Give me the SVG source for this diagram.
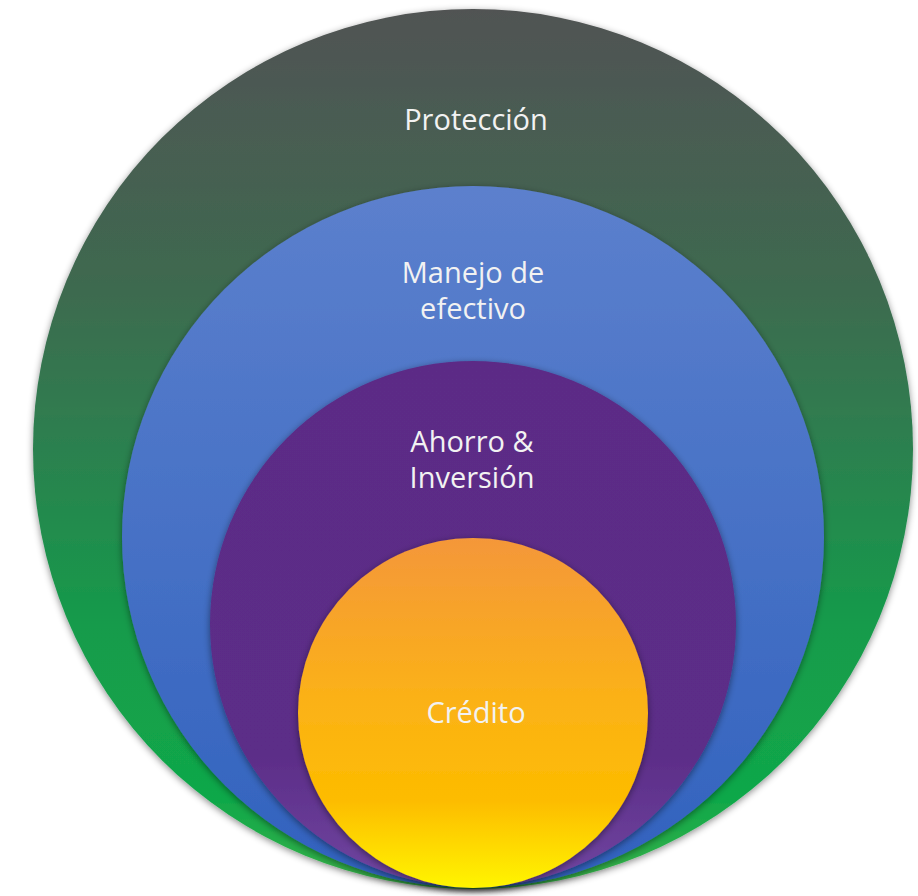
<svg xmlns="http://www.w3.org/2000/svg" width="918" height="896" viewBox="0 0 918 896">
<style>
  .lbl { font-family: "Open Sans", "Noto Sans", "Liberation Sans", sans-serif; font-size: 29px; fill: #f2f2f2; text-anchor: middle; }
  .ring { filter: url(#shadow); }
</style>
<defs>
  <filter id="shadow" x="-10%" y="-10%" width="120%" height="120%">
    <feDropShadow dx="0" dy="2" stdDeviation="3.5" flood-color="#000" flood-opacity="0.45"/>
  </filter>
  <linearGradient id="gOuter" x1="0" y1="0" x2="0" y2="1">
    <stop offset="0" stop-color="#515353"/>
    <stop offset="0.3" stop-color="#3f6850"/>
    <stop offset="0.45" stop-color="#317a50"/>
    <stop offset="0.7" stop-color="#159b4b"/>
    <stop offset="0.9" stop-color="#10a84a"/>
    <stop offset="1" stop-color="#3cb34a"/>
  </linearGradient>
  <linearGradient id="gBlue" x1="0" y1="0" x2="0" y2="1">
    <stop offset="0" stop-color="#5c80cd"/>
    <stop offset="1" stop-color="#3162be"/>
  </linearGradient>
  <linearGradient id="gPurple" x1="0" y1="0" x2="0" y2="1">
    <stop offset="0" stop-color="#5b2c86"/>
    <stop offset="0.75" stop-color="#5c2d88"/>
    <stop offset="1" stop-color="#7046a0"/>
  </linearGradient>
  <linearGradient id="gOrange" x1="0" y1="0" x2="0" y2="1">
    <stop offset="0" stop-color="#f4973a"/>
    <stop offset="0.45" stop-color="#fbb118"/>
    <stop offset="0.75" stop-color="#fdbc00"/>
    <stop offset="1" stop-color="#fff500"/>
  </linearGradient>
</defs>
<rect width="918" height="896" fill="#ffffff"/>
<g id="proteccion">
  <circle class="ring" cx="473" cy="449" r="440" fill="url(#gOuter)"/>
  <text class="lbl" x="476" y="130">Protección</text>
</g>
<g id="manejo">
  <circle class="ring" cx="473" cy="537" r="351" fill="url(#gBlue)"/>
  <text class="lbl" x="473" y="283">Manejo de</text>
  <text class="lbl" x="473" y="319">efectivo</text>
</g>
<g id="ahorro">
  <circle class="ring" cx="473" cy="624" r="263" fill="url(#gPurple)"/>
  <text class="lbl" x="472" y="452">Ahorro &amp;</text>
  <text class="lbl" x="472" y="488">Inversión</text>
</g>
<g id="credito">
  <circle class="ring" cx="473" cy="713" r="175" fill="url(#gOrange)"/>
  <text class="lbl" x="476" y="723">Crédito</text>
</g>
<g id="connectors"></g>
</svg>
